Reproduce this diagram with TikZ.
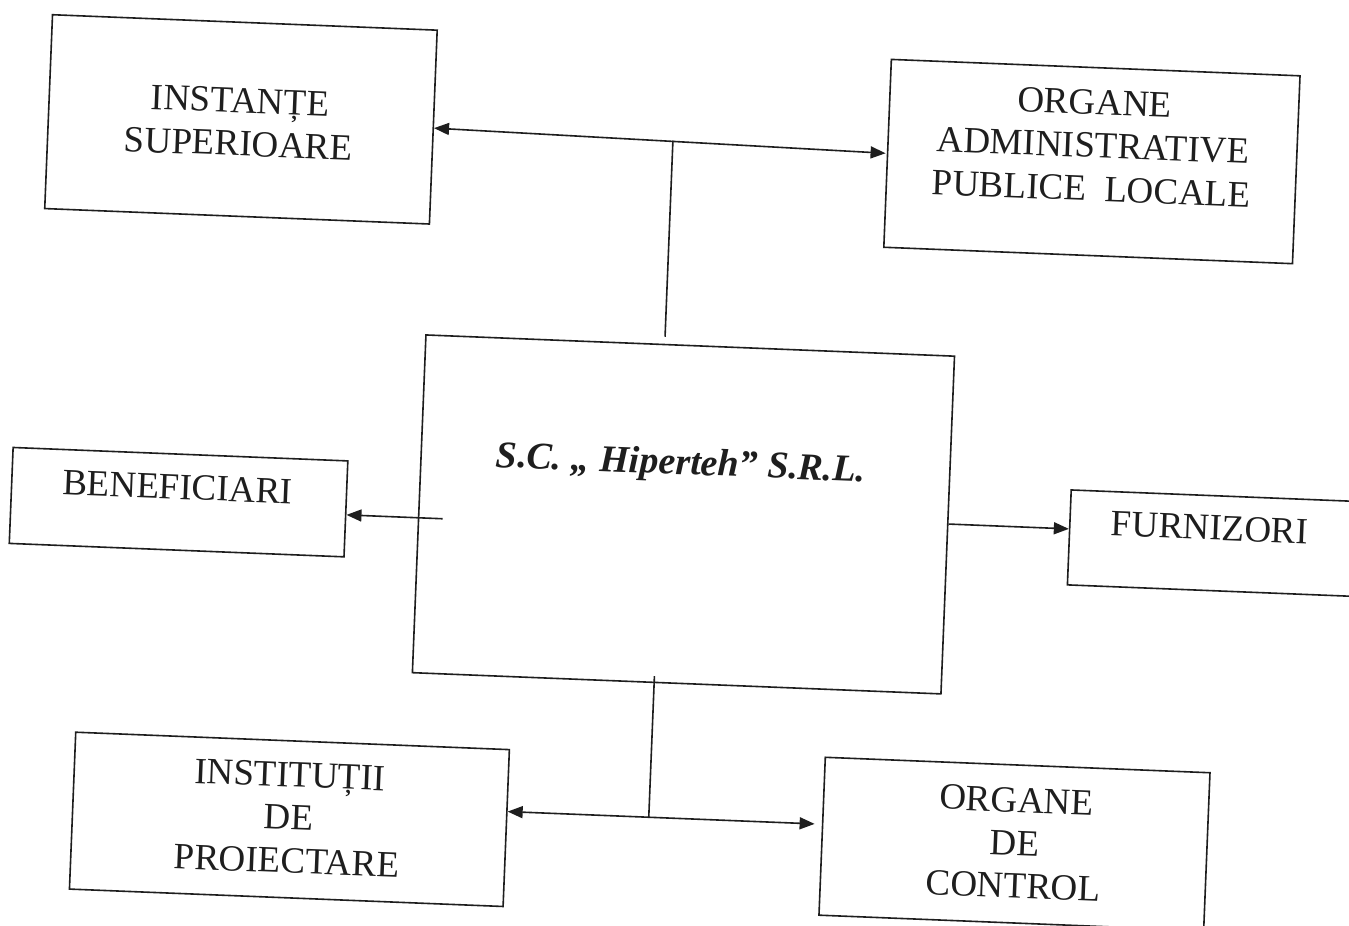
\documentclass[tikz,border=0pt]{standalone}
\usepackage{fontspec}
\setmainfont{Liberation Serif}
\usetikzlibrary{arrows.meta}
\definecolor{ink}{HTML}{1E1E1E}
\tikzset{
  box/.style={draw=ink, line width=1.6pt, inner sep=0pt, fill=none},
  lbl/.style={text=ink, align=center, inner sep=0pt, font=\fontsize{37}{43}\selectfont},
  conn/.style={draw=ink, line width=1.6pt},
  tip/.tip={Triangle[length=15pt,width=12pt]}
}
\begin{document}
\begin{tikzpicture}[x=1pt,y=1pt]
\useasboundingbox (0,0) rectangle (1349,-926);
\fill[white] (0,0) rectangle (1349,-926);
\clip (0,0) rectangle (1349,-926);
\begin{scope}[rotate around={-2.3:(674,-463)}, transform shape]
  % boxes
  \node[box, minimum width=385pt, minimum height=194pt] (inst) at (227.5,-137) {};
  \node[box, minimum width=409pt, minimum height=188pt] (adm) at (1079.5,-145) {};
  \node[box, minimum width=529pt, minimum height=338pt] (main) at (685.5,-514) {};
  \node[box, minimum width=335pt, minimum height=96pt] (benef) at (180.5,-522) {};
  \node[box, minimum width=328pt, minimum height=95pt] (furn) at (1236,-521.5) {};
  \node[box, minimum width=434pt, minimum height=157pt] (instit) at (304,-834.5) {};
  \node[box, minimum width=385pt, minimum height=158pt] (ctrl) at (1029.5,-830) {};
  % texts
  \node[lbl] (instT) at (226,-140) {INSTANȚE\\SUPERIOARE};
  \node[lbl] (admT) at (1080,-129) {ORGANE\\ADMINISTRATIVE\\PUBLICE\ \ LOCALE};
  \node[lbl, font=\fontsize{38}{44}\selectfont\bfseries\itshape] (mainT) at (681,-465) {S.C. „ Hiperteh” S.R.L.};
  \node[lbl] (benefT) at (179,-507) {BENEFICIARI};
  \node[lbl] (furnT) at (1212,-506) {FURNIZORI};
  \node[lbl] (institT) at (303,-833) {INSTITUȚII\\DE\\PROIECTARE};
  \node[lbl] (ctrlT) at (1030,-829) {ORGANE\\DE\\CONTROL};
  % junction coordinates
  \coordinate (J1) at (660,-141);
  \coordinate (J1L) at (420,-138);
  \coordinate (J1R) at (873,-145);
  \coordinate (B0) at (445,-528);
  \coordinate (F0) at (950,-513);
  \coordinate (J2) at (663,-818);
  \coordinate (J2R) at (829,-818);
  % connectors
  \draw[conn, {tip}-{tip}] (inst.east |- J1L) -- (J1R);
  \draw[conn] (J1) -- ([yshift=7pt]main.north -| J1);
  \draw[conn, -{tip}] (B0) -- (benef.east |- B0);
  \draw[conn, -{tip}] (main.east |- F0) -- (furn.west |- F0);
  \draw[conn] ([yshift=7pt]main.south -| J2) -- (J2);
  \draw[conn, {tip}-{tip}] (instit.east |- J2) -- (J2R);
\end{scope}
\end{tikzpicture}
\end{document}
